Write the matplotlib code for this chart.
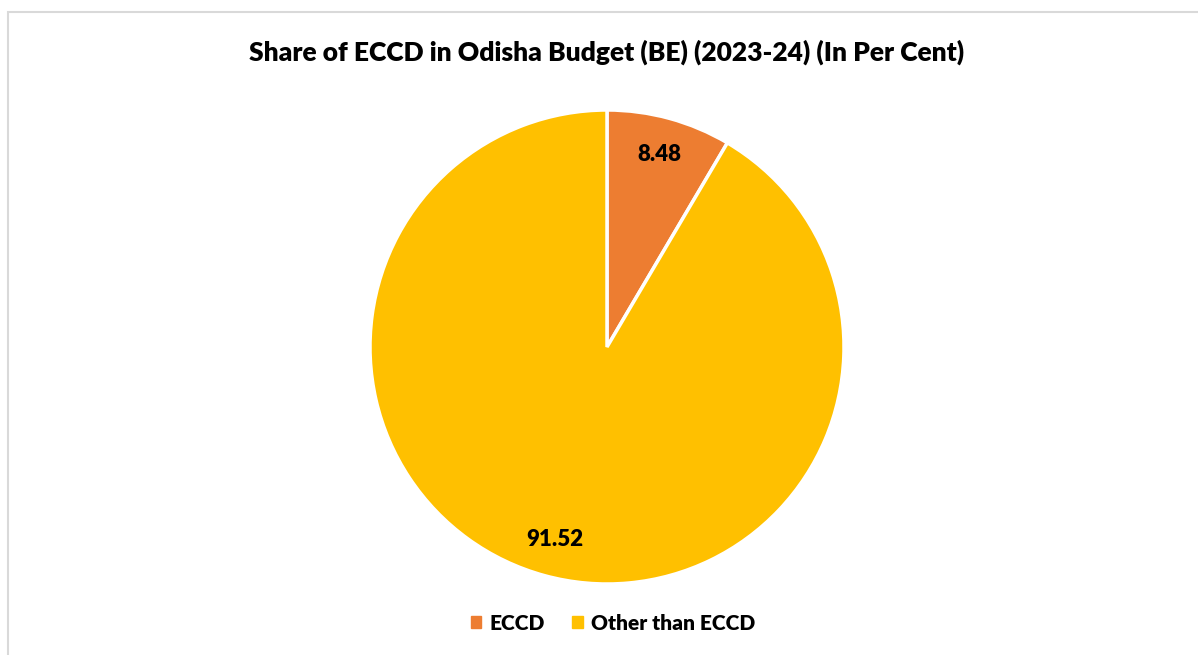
import matplotlib.pyplot as plt
from matplotlib import patches as shape

# data
categories = ["ECCD", "Other than ECCD"]
shares = [8.48, 91.52]
colours = ["#ED7D31", "#FFC000"]

plt.rcParams['font.family'] = ['Lato', 'DejaVu Sans']

fig = plt.figure(figsize=(11.98, 6.55), dpi=100)

# light frame like the excel chart area
frame = shape.Rectangle((8 / 1198, -0.05), 1.2, 1 - 12 / 655 + 0.05,
                        transform=fig.transFigure, fill=False,
                        edgecolor="#D9D9D9", linewidth=1.5)
fig.patches.append(frame)

# pie area: centre ~ (607, 347), radius ~237 px
ax = fig.add_axes([(607 - 237) / 1198, (655 - 347 - 237) / 655,
                   474 / 1198, 474 / 655])

wedges, texts = ax.pie(shares, colors=colours, startangle=90,
                       counterclock=False, radius=1.0,
                       labels=[f"{v:.2f}" for v in shares],
                       labeldistance=0.84,
                       wedgeprops=dict(edgecolor="white", linewidth=2.5),
                       textprops=dict(fontsize=16, fontweight="heavy",
                                      color="black"))
for t in texts:
    t.set_horizontalalignment("center")
    t.set_verticalalignment("center")
ax.set_xlim(-1, 1)
ax.set_ylim(-1, 1)
ax.set_aspect("equal")

fig.text(607 / 1198, 1 - 52 / 655,
         "Share of ECCD in Odisha Budget (BE) (2023-24) (In Per Cent)",
         ha="center", va="center", fontsize=19, fontweight="heavy")

handles = [shape.Patch(color=c) for c in colours]
fig.legend(handles, categories, loc="center", ncol=2,
           bbox_to_anchor=(613 / 1198, 1 - 623 / 655), frameon=False,
           prop=dict(size=15, weight="heavy"), handlelength=0.5,
           handleheight=0.5, columnspacing=1.3, handletextpad=0.4)

plt.savefig("out.png", dpi=100)
